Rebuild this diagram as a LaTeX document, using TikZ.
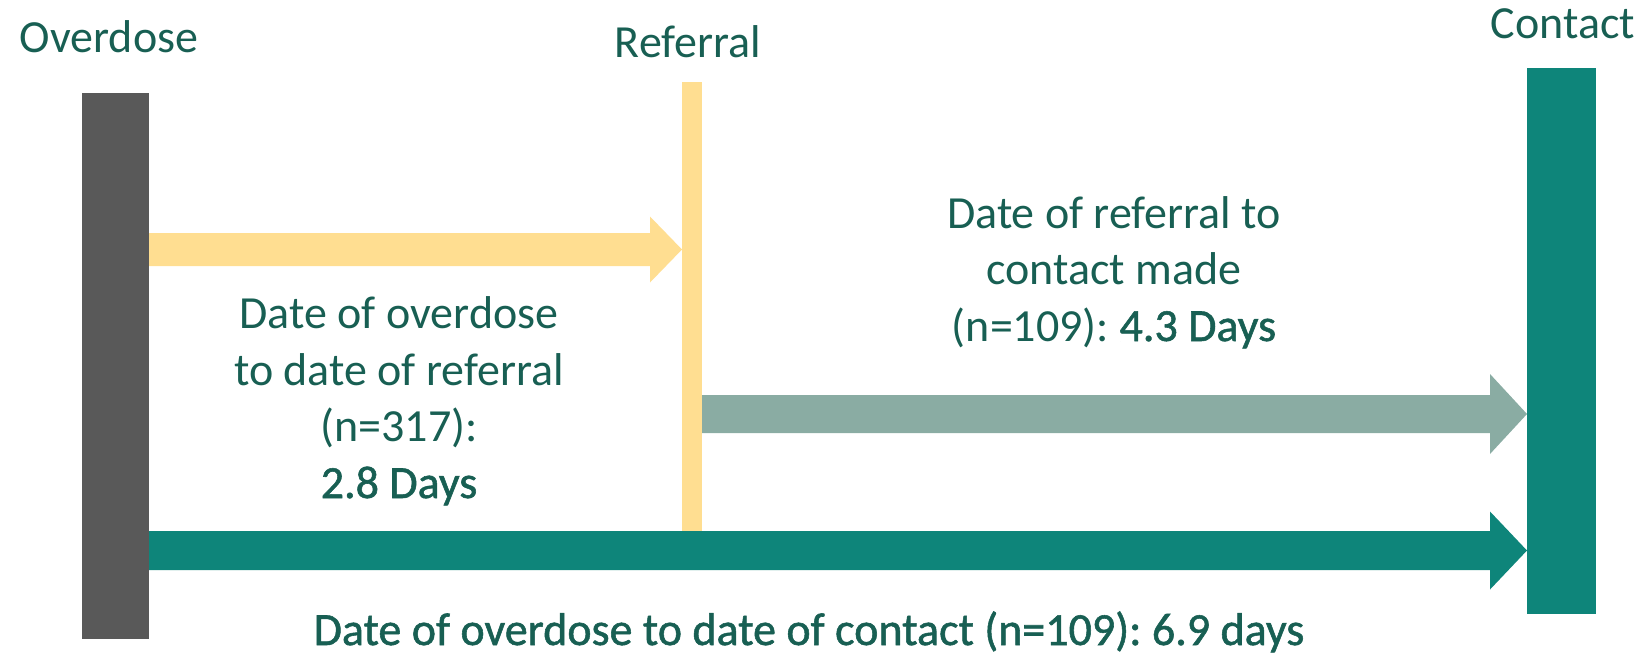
\documentclass[tikz,border=0pt]{standalone}
\usepackage{fontspec}
\setmainfont{Carlito}
\newfontfamily\emf[FakeBold=1.2]{Carlito}
\frenchspacing
\usetikzlibrary{calc}
\definecolor{txt}{HTML}{185F53}
\definecolor{darkbar}{HTML}{595959}
\definecolor{yel}{HTML}{FFDE91}
\definecolor{sage}{HTML}{8AACA3}
\definecolor{teal}{HTML}{0E857A}
\begin{document}
\begin{tikzpicture}[x=1pt,y=-1pt]
\tikzset{
  bar/.style={draw=none, inner sep=0pt, outer sep=0pt, anchor=north west},
  lbl/.style={text=txt, inner sep=0pt, font=\frenchspacing\fontsize{46}{56.5}\selectfont, align=center},
}
\useasboundingbox (0,0) rectangle (1645,655);
% bars
\node[bar, fill=darkbar, minimum width=67, minimum height=546] (over) at (82,93) {};
\node[bar, fill=yel, minimum width=20, minimum height=449] (ref) at (682,82) {};
\node[bar, fill=teal, minimum width=69, minimum height=546] (con) at (1527,68) {};
% titles
\node[lbl, anchor=base] (tover) at (109,52.5) {Overdose};
\node[lbl, anchor=base] (tref) at (688,58) {Referral};
\node[lbl, anchor=base] (tcon) at (1563,39) {Contact};
% yellow arrow
\coordinate (a1s) at (over.east |- 0,249.5);
\coordinate (a1e) at (ref.west |- 0,249.5);
\fill[yel] ($(a1s)+(0,-16.5)$) -- ($(a1e)+(-32,-16.5)$) -- ($(a1e)+(-32,-33)$) -- (a1e)
  -- ($(a1e)+(-32,33)$) -- ($(a1e)+(-32,16.5)$) -- ($(a1s)+(0,16.5)$) -- cycle;
% sage arrow
\coordinate (a2s) at (ref.east |- 0,414);
\coordinate (a2e) at (con.west |- 0,414);
\fill[sage] ($(a2s)+(0,-19)$) -- ($(a2e)+(-37,-19)$) -- ($(a2e)+(-37,-40)$) -- (a2e)
  -- ($(a2e)+(-37,40)$) -- ($(a2e)+(-37,19)$) -- ($(a2s)+(0,19)$) -- cycle;
% teal arrow
\coordinate (a3s) at (over.east |- 0,550.5);
\coordinate (a3e) at (con.west |- 0,550.5);
\fill[teal] ($(a3s)+(0,-19.5)$) -- ($(a3e)+(-37,-19.5)$) -- ($(a3e)+(-37,-39)$) -- (a3e)
  -- ($(a3e)+(-37,39)$) -- ($(a3e)+(-37,19.5)$) -- ($(a3s)+(0,19.5)$) -- cycle;
% labels (base anchor = baseline of last line)
\node[lbl, anchor=base] (l1) at (399,498) {Date of overdose\\to date of referral\\(n=317):\\{\emf 2.8 Days}};
\node[lbl, anchor=base] (l2) at (1114,341) {Date of referral to\\contact made\\(n=109): {\emf 4.3 Days}};
\node[lbl, anchor=base] (l3) at (809,645) {\emf Date of overdose to date of contact (n=109): 6.9 days};
\end{tikzpicture}
\end{document}
